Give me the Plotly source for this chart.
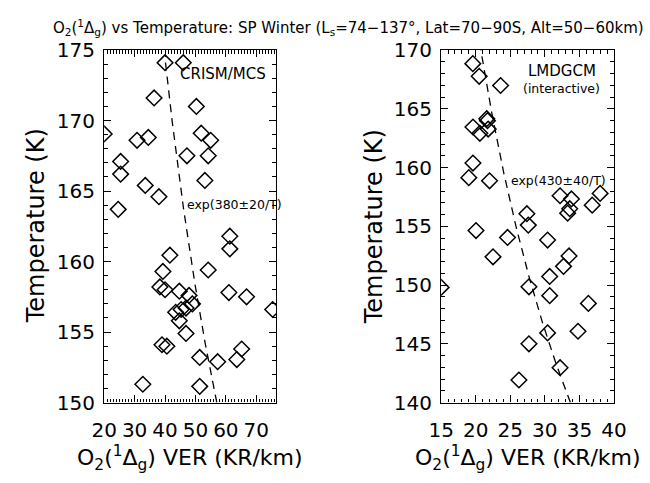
import numpy as np
import plotly.graph_objects as go

# ---------------- data ----------------
crism_ver = [40.0, 46.0, 36.4, 50.3, 20.0, 30.8, 34.5, 51.9, 55.0, 25.4, 25.4,
             47.2, 54.2, 33.5, 38.0, 53.1, 24.6, 61.3, 61.3, 41.6, 39.3, 54.2,
             38.3, 40.0, 44.7, 47.9, 61.0, 66.8, 75.4, 43.5, 45.3, 46.9, 49.0,
             44.7, 46.9, 39.0, 40.6, 65.2, 63.6, 51.4, 57.3, 32.7, 51.4]
crism_T = [174.1, 174.1, 171.6, 171.0, 169.05, 168.6, 168.8, 169.1, 168.6, 167.1, 166.2,
           167.5, 167.5, 165.4, 164.6, 165.75, 163.7, 161.8, 160.9, 160.45, 159.3, 159.4,
           158.2, 158.0, 157.9, 157.6, 157.8, 157.5, 156.6, 156.4, 156.6, 156.7, 157.0,
           155.8, 154.9, 154.1, 154.0, 153.8, 153.05, 153.2, 152.9, 151.3, 151.15]

gcm_ver = [19.58, 20.5, 23.6, 21.6, 21.7, 19.6, 20.6, 21.8, 19.6, 19.0, 22.0,
           32.2, 33.85, 33.6, 33.3, 36.85, 38.0, 27.4, 27.6, 20.04, 24.6, 30.4,
           22.5, 33.5, 32.7, 30.7, 15.0, 27.7, 30.7, 36.3, 30.4, 34.8, 27.7,
           32.2, 26.25]
gcm_T = [168.84, 167.76, 166.98, 164.16, 163.99, 163.45, 162.91, 163.27, 160.38, 159.14, 158.87,
         157.6, 157.33, 156.5, 156.12, 156.8, 157.8, 156.07, 155.1, 154.64, 154.05, 153.83,
         152.4, 152.48, 151.59, 150.73, 149.8, 149.85, 149.1, 148.44, 145.93, 146.07, 145.0,
         142.97, 141.92]

# fitted lines VER = A*exp(B/T) (anchor point + slope as drawn)
fit_left_B = 380.0
fit_left_anchor = (174.4, 40.0)      # (T, VER)
fit_left_Trange = (150.0, 174.4)
fit_right_B = 385.0
fit_right_anchor = (170.0, 20.74)
fit_right_Trange = (140.0, 170.0)

left_xrange = [20, 76.5]
left_yrange = [150, 175]
right_xrange = [15, 40]
right_yrange = [140, 170]

title_text = ("O<sub>2</sub>(<sup>1</sup>Δ<sub>g</sub>) vs Temperature: SP Winter "
              "(L<sub>s</sub>=74−137°, Lat=70−90S, Alt=50−60km)")
xtitle_text = "O<sub>2</sub>(<sup>1</sup>Δ<sub>g</sub>) VER (KR/km)"
ytitle_text = "Temperature (K)"
left_label = "CRISM/MCS"
left_fit_label = "exp(380±20/T)"
right_label = "LMDGCM"
right_sub_label = "(interactive)"
right_fit_label = "exp(430±40/T)"

# ---------------- figure ----------------
W, H = 650, 483
FONT = "DejaVu Sans, Verdana, sans-serif"

def fit_curve(B, anchor, trange):
    T = np.linspace(trange[0], trange[1], 200)
    A = anchor[1] / np.exp(B / anchor[0])
    return A * np.exp(B / T), T

fig = go.Figure()
marker = dict(symbol="diamond-open", size=12, color="black", line=dict(width=1.5, color="black"))
dash_line = dict(color="black", width=1.3, dash="8px,6px")

fig.add_trace(go.Scatter(x=crism_ver, y=crism_T, mode="markers", marker=marker,
                         xaxis="x", yaxis="y", showlegend=False, hoverinfo="skip"))
fx, fT = fit_curve(fit_left_B, fit_left_anchor, fit_left_Trange)
fig.add_trace(go.Scatter(x=fx, y=fT, mode="lines", line=dash_line,
                         xaxis="x", yaxis="y", showlegend=False, hoverinfo="skip"))

fig.add_trace(go.Scatter(x=gcm_ver, y=gcm_T, mode="markers", marker=marker,
                         xaxis="x2", yaxis="y2", showlegend=False, hoverinfo="skip"))
gx, gT = fit_curve(fit_right_B, fit_right_anchor, fit_right_Trange)
fig.add_trace(go.Scatter(x=gx, y=gT, mode="lines", line=dash_line,
                         xaxis="x2", yaxis="y2", showlegend=False, hoverinfo="skip"))

def px_x(p):
    return p / W

def px_y(p):
    return (H - p) / H

top, bottom = 40, 411
lx0, lx1 = 95, 274
rx0, rx1 = 446, 626

def axis_common(dtick, minor_dtick, standoff):
    return dict(
        showline=True, linecolor="black", linewidth=1.3, mirror="allticks",
        ticks="inside", ticklen=7, tickwidth=1, tickcolor="black",
        dtick=dtick, showgrid=False, zeroline=False,
        minor=dict(dtick=minor_dtick, ticks="inside", ticklen=3.5, tickwidth=1, tickcolor="black", showgrid=False),
        tickfont=dict(family=FONT, size=20, color="black"),
        ticklabelstandoff=standoff,
    )

fig.update_layout(
    width=W, height=H, margin=dict(l=0, r=0, t=0, b=0),
    paper_bgcolor="white", plot_bgcolor="white",
    font=dict(family=FONT, color="black"),
    xaxis=dict(domain=[px_x(lx0), px_x(lx1)], range=left_xrange, tick0=20, anchor="y",
               **axis_common(10, 1, 9)),
    yaxis=dict(domain=[px_y(bottom), px_y(top)], range=left_yrange, tick0=150, anchor="x",
               **axis_common(5, 1, 4)),
    xaxis2=dict(domain=[px_x(rx0), px_x(rx1)], range=right_xrange, tick0=15, anchor="y2",
                **axis_common(5, 1, 9)),
    yaxis2=dict(domain=[px_y(bottom), px_y(top)], range=right_yrange, tick0=140, anchor="x2",
                **axis_common(5, 1, 4)),
)

ann = []
ann.append(dict(text=title_text, x=px_x(349), y=px_y(16), xref="paper", yref="paper",
                showarrow=False, xanchor="center", yanchor="middle",
                font=dict(family=FONT, size=15)))
for xc in [(lx0 + lx1) / 2, (rx0 + rx1) / 2]:
    ann.append(dict(text=xtitle_text, x=px_x(xc), y=px_y(469), xref="paper", yref="paper",
                    showarrow=False, xanchor="center", yanchor="middle",
                    font=dict(family=FONT, size=22)))
for xc in [24, 376]:
    ann.append(dict(text=ytitle_text, x=px_x(xc), y=px_y((top + bottom) / 2), xref="paper", yref="paper",
                    showarrow=False, xanchor="center", yanchor="middle", textangle=-90,
                    font=dict(family=FONT, size=24)))
ann.append(dict(text=left_label, x=px_x(266), y=px_y(65), xref="paper", yref="paper",
                showarrow=False, xanchor="right", yanchor="middle", font=dict(family=FONT, size=15)))
ann.append(dict(text=left_fit_label, x=px_x(179), y=px_y(203), xref="paper", yref="paper",
                showarrow=False, xanchor="left", yanchor="middle", font=dict(family=FONT, size=12.5)))
ann.append(dict(text=right_label, x=px_x(572), y=px_y(62), xref="paper", yref="paper",
                showarrow=False, xanchor="center", yanchor="middle", font=dict(family=FONT, size=15)))
ann.append(dict(text=right_sub_label, x=px_x(571), y=px_y(81), xref="paper", yref="paper",
                showarrow=False, xanchor="center", yanchor="middle", font=dict(family=FONT, size=12.5)))
ann.append(dict(text=right_fit_label, x=px_x(517), y=px_y(177), xref="paper", yref="paper",
                showarrow=False, xanchor="left", yanchor="middle", font=dict(family=FONT, size=12.5)))
fig.update_layout(annotations=ann)

fig.write_html("out.html", config={"displayModeBar": False},
               post_script="document.body.style.margin='0';document.body.style.overflow='hidden';")
